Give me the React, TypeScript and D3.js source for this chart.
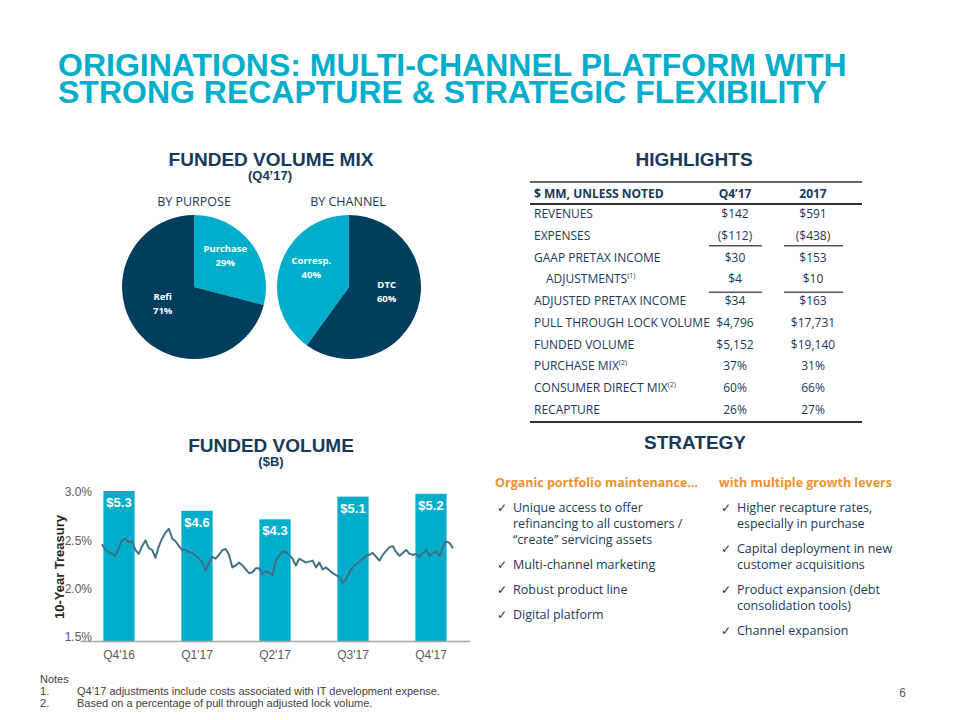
import React, { useRef, useEffect } from 'react'
import * as d3 from 'd3'

// pies (Q4'17 funded volume mix)
const purposeLabels = ['Purchase', 'Refi']
const purposeShares = [29, 71]
const channelLabels = ['DTC', 'Corresp.']
const channelShares = [60, 40]

// highlights table
const tableRows = ['REVENUES', 'EXPENSES', 'GAAP PRETAX INCOME', 'ADJUSTMENTS', 'ADJUSTED PRETAX INCOME',
  'PULL THROUGH LOCK VOLUME', 'FUNDED VOLUME', 'PURCHASE MIX', 'CONSUMER DIRECT MIX', 'RECAPTURE']
const rowNotes = ['', '', '', '(1)', '', '', '', '(2)', '(2)', '']
const q4Values = ['$142', '($112)', '$30', '$4', '$34', '$4,796', '$5,152', '37%', '60%', '26%']
const fyValues = ['$591', '($438)', '$153', '$10', '$163', '$17,731', '$19,140', '31%', '66%', '27%']

// funded volume bars + 10y treasury
const quarters = ["Q4'16", "Q1'17", "Q2'17", "Q3'17", "Q4'17"]
const fundedVolume = [5.3, 4.6, 4.3, 5.1, 5.2]
const treasuryTicks = [1.5, 2.0, 2.5, 3.0]
const treasury10y = [
  2.46, 2.40, 2.38, 2.36, 2.34, 2.42, 2.50, 2.52, 2.48, 2.49, 2.40, 2.36, 2.44, 2.50, 2.42, 2.40, 2.32,
  2.44, 2.52, 2.58, 2.62, 2.52, 2.49, 2.44, 2.40, 2.40, 2.38, 2.37, 2.34, 2.31, 2.27, 2.19, 2.27, 2.33,
  2.31, 2.35, 2.40, 2.41, 2.35, 2.22, 2.24, 2.27, 2.24, 2.20, 2.16, 2.17, 2.21, 2.21, 2.15, 2.18, 2.17,
  2.14, 2.29, 2.34, 2.38, 2.38, 2.35, 2.31, 2.24, 2.31, 2.29, 2.27, 2.28, 2.29, 2.22, 2.27, 2.20, 2.22,
  2.19, 2.16, 2.14, 2.12, 2.06, 2.10, 2.17, 2.22, 2.25, 2.28, 2.31, 2.34, 2.35, 2.37, 2.33, 2.29, 2.35,
  2.39, 2.43, 2.44, 2.38, 2.34, 2.37, 2.40, 2.36, 2.35, 2.36, 2.33, 2.37, 2.40, 2.34, 2.37, 2.38, 2.34,
  2.44, 2.49, 2.47, 2.42
]

// strategy bullets
const leftHead = 'Organic portfolio maintenance…'
const leftBullets = [
  ['Unique access to offer', 'refinancing to all customers /', '“create” servicing assets'],
  ['Multi-channel marketing'],
  ['Robust product line'],
  ['Digital platform'],
]
const rightHead = 'with multiple growth levers'
const rightBullets = [
  ['Higher recapture rates,', 'especially in purchase'],
  ['Capital deployment in new', 'customer acquisitions'],
  ['Product expansion (debt', 'consolidation tools)'],
  ['Channel expansion'],
]

const notes = [
  'Q4’17 adjustments include costs associated with IT development expense.',
  'Based on a percentage of pull through adjusted lock volume.',
]

const CYAN = '#00AECB'
const NAVY = '#003E5E'
const INK = '#17395A'
const ORANGE = '#F0912F'
const ARIAL = '"Liberation Sans", Arial, sans-serif'
const SEGOE = '"Open Sans", sans-serif'

const Pies = () => {
  const ref = useRef<SVGGElement>(null)
  useEffect(() => {
    const g = d3.select(ref.current)
    g.selectAll('*').remove()
    const r = 72
    const arc = d3.arc<any>().innerRadius(0).outerRadius(r)
    const labelArc = d3.arc<any>().innerRadius(r * 0.55).outerRadius(r * 0.55)
    const pie = d3.pie<number>().sort(null).value(d => d)
    const sets = [
      { cx: 194, labels: purposeLabels, shares: purposeShares, colors: [CYAN, NAVY] },
      { cx: 349, labels: channelLabels, shares: channelShares, colors: [NAVY, CYAN] },
    ]
    sets.forEach(s => {
      const pg = g.append('g').attr('transform', `translate(${s.cx},287)`)
      const arcs = pie(s.shares)
      pg.selectAll('path').data(arcs).join('path')
        .attr('d', arc)
        .attr('fill', (d, i) => s.colors[i])
      const t = pg.selectAll('text').data(arcs).join('text')
        .attr('transform', d => {
          const [x, y] = labelArc.centroid(d)
          return `translate(${x},${y - 11})`
        })
        .attr('text-anchor', 'middle')
        .attr('fill', '#fff')
        .style('font-family', SEGOE)
        .style('font-weight', 700)
        .style('font-size', '9.5px')
      t.append('tspan').attr('x', 0).attr('dy', 0).text((d, i) => s.labels[i])
      t.append('tspan').attr('x', 0).attr('dy', 14).text((d, i) => s.shares[i] + '%')
    })
  }, [])
  return <g ref={ref} />
}

const VolumeChart = () => {
  const ref = useRef<SVGGElement>(null)
  useEffect(() => {
    const g = d3.select(ref.current)
    g.selectAll('*').remove()
    const base = 641
    const x = d3.scaleBand().domain(quarters).range([80, 470]).paddingInner(0.6).paddingOuter(0.3)
    const yVol = d3.scaleLinear().domain([0, 5.3]).range([base, 491])
    const yRate = d3.scaleLinear().domain([1.5, 3.0]).range([637, 492])
    const xLine = d3.scaleLinear().domain([0, treasury10y.length - 1]).range([102, 453])

    g.selectAll('.bar').data(fundedVolume).join('rect')
      .attr('class', 'bar')
      .attr('x', (d, i) => x(quarters[i])!)
      .attr('y', d => yVol(d))
      .attr('width', x.bandwidth())
      .attr('height', d => base - yVol(d))
      .attr('fill', CYAN)

    g.selectAll('.bar-label').data(fundedVolume).join('text')
      .attr('class', 'bar-label')
      .attr('x', (d, i) => x(quarters[i])! + x.bandwidth() / 2)
      .attr('y', d => yVol(d) + 16)
      .attr('text-anchor', 'middle')
      .attr('fill', '#fff')
      .style('font-family', ARIAL)
      .style('font-weight', 700)
      .style('font-size', '13px')
      .text(d => '$' + d.toFixed(1))

    const line = d3.line<number>().x((d, i) => xLine(i)).y(d => yRate(d))
    g.append('path')
      .datum(treasury10y)
      .attr('d', line)
      .attr('fill', 'none')
      .attr('stroke', '#41718A')
      .attr('stroke-width', 2)
      .attr('stroke-linejoin', 'round')

    const yAxis = g.append('g').attr('transform', 'translate(95,0)')
      .call(d3.axisLeft(yRate).tickValues(treasuryTicks).tickSize(0).tickPadding(3).tickFormat(d => (+d).toFixed(1) + '%'))
    yAxis.select('.domain').remove()
    yAxis.selectAll('text').attr('fill', '#595959').style('font-family', ARIAL).style('font-size', '12px')

    const xAxis = g.append('g').attr('transform', `translate(0,${base})`)
      .call(d3.axisBottom(x).tickSize(0).tickPadding(9))
    xAxis.select('.domain').attr('stroke', '#A6A6A6').attr('stroke-width', 1.5)
    xAxis.selectAll('text').attr('fill', '#595959').style('font-family', ARIAL).style('font-size', '12px')

    g.append('text')
      .attr('transform', 'translate(64,567) rotate(-90)')
      .attr('text-anchor', 'middle')
      .attr('fill', '#262626')
      .style('font-family', ARIAL)
      .style('font-weight', 700)
      .style('font-size', '13px')
      .text('10-Year Treasury')
  }, [])
  return <g ref={ref} />
}

const Highlights = () => {
  const rowY = d3.scaleLinear().domain([0, tableRows.length - 1]).range([218, 414])
  const txt = { fontFamily: SEGOE, fontSize: 12, fill: INK }
  return (
    <g>
      <line x1={530} x2={862} y1={182} y2={182} stroke="#333" strokeWidth={1.5} />
      <text x={534} y={198} {...txt} fontWeight={700}>$ MM, UNLESS NOTED</text>
      <text x={735} y={198} {...txt} fontWeight={700} textAnchor="middle">Q4’17</text>
      <text x={813} y={198} {...txt} fontWeight={700} textAnchor="middle">2017</text>
      <line x1={530} x2={862} y1={204} y2={204} stroke="#333" strokeWidth={2} />
      {tableRows.map((r, i) => (
        <g key={r}>
          <text x={r === 'ADJUSTMENTS' ? 546 : 534} y={rowY(i)} {...txt}>
            {r}
            {rowNotes[i] && <tspan fontSize={7} dy={-5}>{rowNotes[i]}</tspan>}
          </text>
          <text x={735} y={rowY(i)} {...txt} textAnchor="middle">{q4Values[i]}</text>
          <text x={813} y={rowY(i)} {...txt} textAnchor="middle">{fyValues[i]}</text>
        </g>
      ))}
      {[rowY(1) + 6, rowY(3) + 9].map(y => (
        <g key={y}>
          <line x1={709} x2={762} y1={y} y2={y} stroke="#555" strokeWidth={1.5} />
          <line x1={784} x2={843} y1={y} y2={y} stroke="#555" strokeWidth={1.5} />
        </g>
      ))}
      <line x1={530} x2={862} y1={422} y2={422} stroke="#333" strokeWidth={2} />
    </g>
  )
}

const Bullets = ({ x, head, items }: { x: number; head: string; items: string[][] }) => {
  let y = 512
  const out: React.ReactNode[] = []
  items.forEach((lines, i) => {
    out.push(<text key={'c' + i} x={x + 2} y={y} fontFamily={SEGOE} fontSize={12} fill={INK}>✓</text>)
    lines.forEach((l, j) => {
      out.push(<text key={i + '-' + j} x={x + 18} y={y + j * 16} fontFamily={SEGOE} fontSize={12.5} fill={INK}>{l}</text>)
    })
    y += (lines.length - 1) * 16 + 25
  })
  return (
    <g>
      <text x={x} y={487} fontFamily={SEGOE} fontWeight={700} fontSize={12.5} fill={ORANGE}>{head}</text>
      {out}
    </g>
  )
}

export default function App() {
  const head = { fontFamily: ARIAL, fontWeight: 700, fill: INK, textAnchor: 'middle' as const }
  return (
    <svg width={960} height={720} style={{ position: 'absolute', left: 0, top: 0, background: '#fff' }}>
      <text x={58} y={76} fontFamily={ARIAL} fontWeight={700} fontSize={32} fill={CYAN}>ORIGINATIONS: MULTI-CHANNEL PLATFORM WITH</text>
      <text x={58} y={103} fontFamily={ARIAL} fontWeight={700} fontSize={32} fill={CYAN}>STRONG RECAPTURE &amp; STRATEGIC FLEXIBILITY</text>

      <text x={271} y={166} {...head} fontSize={19}>FUNDED VOLUME MIX</text>
      <text x={270} y={180} {...head} fontSize={13}>(Q4’17)</text>
      <text x={194} y={206} fontFamily={SEGOE} fontSize={12.5} fill={INK} textAnchor="middle">BY PURPOSE</text>
      <text x={348} y={206} fontFamily={SEGOE} fontSize={12.5} fill={INK} textAnchor="middle">BY CHANNEL</text>
      <Pies />

      <text x={694} y={166} {...head} fontSize={19}>HIGHLIGHTS</text>
      <Highlights />

      <text x={271} y={452} {...head} fontSize={19}>FUNDED VOLUME</text>
      <text x={271} y={466} {...head} fontSize={13}>($B)</text>
      <VolumeChart />

      <text x={695} y={449} {...head} fontSize={19}>STRATEGY</text>
      <Bullets x={495} head={leftHead} items={leftBullets} />
      <Bullets x={719} head={rightHead} items={rightBullets} />

      <text x={40} y={683} fontFamily={ARIAL} fontSize={11} fill="#404040">Notes</text>
      {notes.map((n, i) => (
        <g key={i}>
          <text x={40} y={695 + i * 12} fontFamily={ARIAL} fontSize={11} fill="#404040">{i + 1}.</text>
          <text x={77} y={695 + i * 12} fontFamily={ARIAL} fontSize={11} fill="#404040">{n}</text>
        </g>
      ))}
      <text x={906} y={697} fontFamily={ARIAL} fontSize={12} fill="#595959" textAnchor="end">6</text>
    </svg>
  )
}
